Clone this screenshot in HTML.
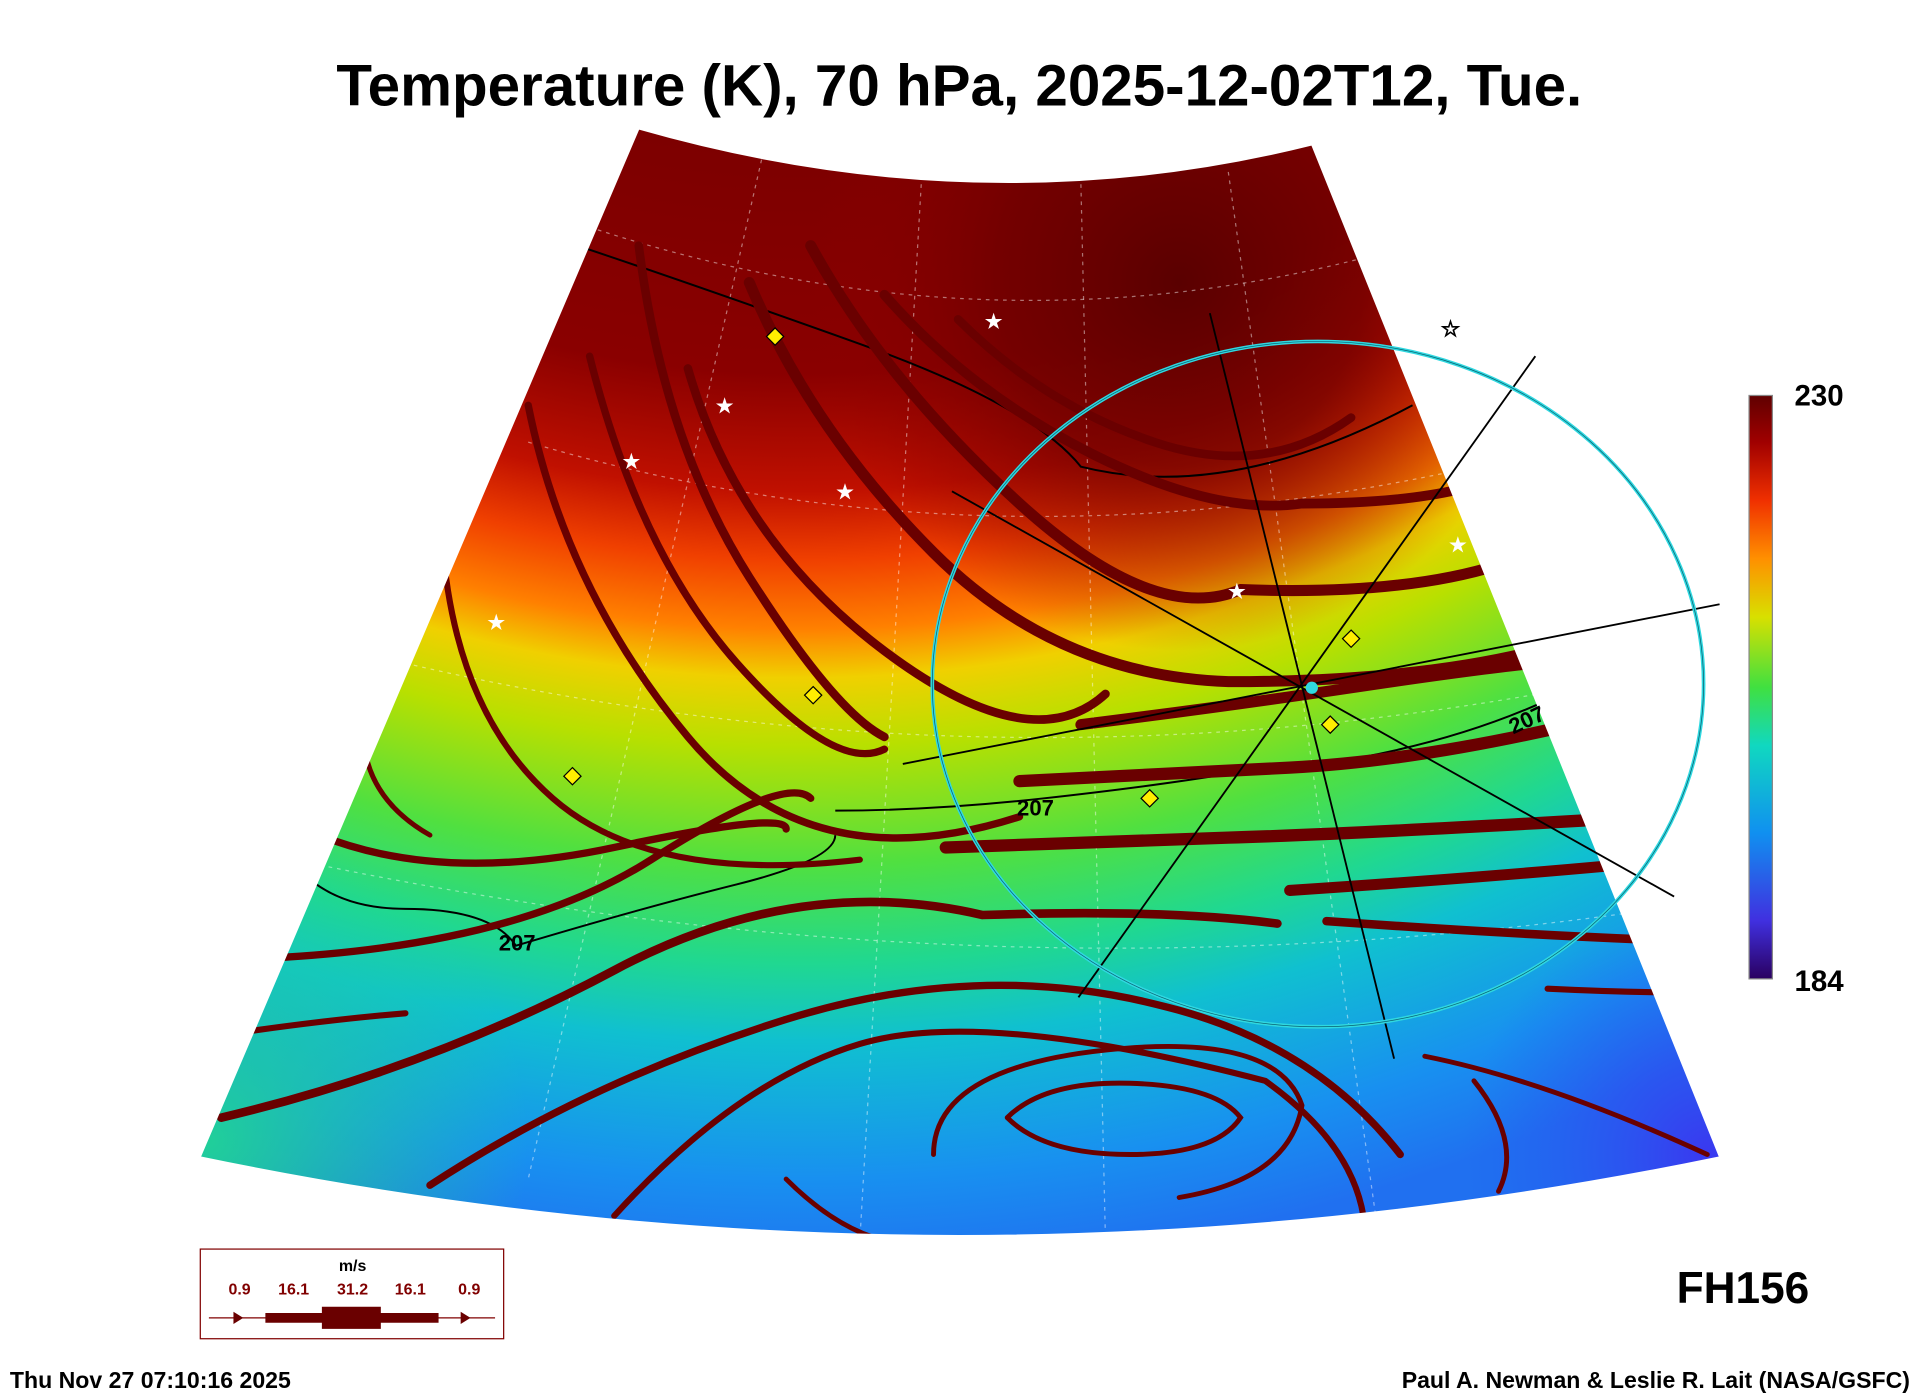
<!DOCTYPE html>
<html><head><meta charset="utf-8"><style>
html,body{margin:0;padding:0;background:#fff;}
svg{display:block;}
text{font-family:"Liberation Sans",Arial,sans-serif;font-weight:bold;}
</style></head><body>
<svg width="1926" height="1394" viewBox="0 0 1568 1135" xmlns="http://www.w3.org/2000/svg">
<defs>
<radialGradient id="tg" cx="650" cy="-560" r="1600" fx="650" fy="-560" gradientUnits="userSpaceOnUse">
<stop offset="0.40" stop-color="#7a0000"/>
<stop offset="0.54" stop-color="#8a0000"/>
<stop offset="0.60" stop-color="#c01000"/>
<stop offset="0.635" stop-color="#f04000"/>
<stop offset="0.67" stop-color="#ff8000"/>
<stop offset="0.695" stop-color="#f0d000"/>
<stop offset="0.73" stop-color="#b8e000"/>
<stop offset="0.79" stop-color="#50e040"/>
<stop offset="0.84" stop-color="#20d890"/>
<stop offset="0.88" stop-color="#10c0d0"/>
<stop offset="0.95" stop-color="#1890f0"/>
<stop offset="1" stop-color="#2070f0"/>
</radialGradient>
<radialGradient id="dr" cx="960" cy="230" r="300" gradientUnits="userSpaceOnUse">
<stop offset="0" stop-color="#5a0000" stop-opacity="1"/>
<stop offset="0.5" stop-color="#700000" stop-opacity="0.8"/>
<stop offset="1" stop-color="#900000" stop-opacity="0"/>
</radialGradient>
<radialGradient id="gl" cx="170" cy="930" r="260" gradientUnits="userSpaceOnUse">
<stop offset="0" stop-color="#20d890" stop-opacity="0.9"/>
<stop offset="1" stop-color="#20d890" stop-opacity="0"/>
</radialGradient>
<radialGradient id="bp" cx="1390" cy="940" r="200" gradientUnits="userSpaceOnUse">
<stop offset="0" stop-color="#3a38f0" stop-opacity="1"/>
<stop offset="1" stop-color="#2060f0" stop-opacity="0"/>
</radialGradient>
<linearGradient id="cb" x1="0" y1="1" x2="0" y2="0">
<stop offset="0" stop-color="#2a0060"/>
<stop offset="0.1" stop-color="#4030e0"/>
<stop offset="0.25" stop-color="#1090f0"/>
<stop offset="0.4" stop-color="#10d8c0"/>
<stop offset="0.5" stop-color="#40e040"/>
<stop offset="0.62" stop-color="#d8e000"/>
<stop offset="0.72" stop-color="#ff9000"/>
<stop offset="0.82" stop-color="#f03000"/>
<stop offset="0.92" stop-color="#a00000"/>
<stop offset="1" stop-color="#600000"/>
</linearGradient>
<clipPath id="mc"><path d="M520,105 Q800,185 1068,118 L1400,942 Q780,1070 163,942 Z"/></clipPath>
</defs>
<text x="781" y="86" font-size="47.5" text-anchor="middle">Temperature (K), 70 hPa, 2025-12-02T12, Tue.</text>
<g clip-path="url(#mc)">
<rect x="150" y="90" width="1270" height="960" fill="url(#tg)"/>
<rect x="150" y="90" width="1270" height="960" fill="url(#dr)"/>
<rect x="150" y="90" width="1270" height="960" fill="url(#gl)"/>
<rect x="150" y="90" width="1270" height="960" fill="url(#bp)"/>
<g fill="none" stroke="#fff" stroke-opacity="0.45" stroke-width="1" stroke-dasharray="3,4">
<path d="M480,185 Q800,290 1110,210"/><path d="M430,360 Q800,470 1200,380"/><path d="M330,540 Q800,650 1280,560"/><path d="M240,700 Q800,820 1350,740"/>
<path d="M620,130 L430,960"/><path d="M750,150 L700,1010"/><path d="M880,150 L900,1010"/><path d="M1000,140 L1120,990"/>
</g>
<g fill="none" stroke="#000" stroke-width="1.6">
<path d="M470,200 Q560,230 700,280 T880,380 Q1000,410 1150,330"/>
<path d="M680,660 Q760,660 850,650 T1000,630 Q1150,620 1260,570"/>
<path d="M230,690 Q260,740 330,740 T420,770 Q520,740 600,720 T680,680"/>
</g>
<g fill="none" stroke="#6a0000" stroke-linecap="round">
<path stroke-width="9" d="M610,230 Q660,350 760,450 T1000,555 Q1150,555 1250,530"/>
<path stroke-width="9" d="M660,200 Q720,310 830,410 T1010,480 Q1140,485 1220,460"/>
<path stroke-width="8" d="M720,240 Q790,320 890,370 T1060,410 Q1140,410 1190,398"/>
<path stroke-width="7" d="M780,260 Q850,330 940,360 T1100,340"/>
<path stroke-width="7" d="M560,300 Q600,440 720,530 T900,565"/>
<path stroke-width="7" d="M520,200 Q540,360 610,470 T720,600"/>
<path stroke-width="6" d="M480,290 Q520,450 600,540 T720,610"/>
<path stroke-width="6" d="M430,330 Q460,480 560,600 T830,665"/>
<path stroke-width="5" d="M360,440 Q370,580 450,650 T700,700"/>
<path stroke-width="4" d="M300,560 Q280,640 350,680"/>
<path stroke-width="6" d="M260,680 Q360,720 500,690 T640,675"/>
<path stroke-width="6" d="M220,780 Q420,770 530,700 T660,650"/>
<path stroke-width="7" d="M180,910 Q350,870 500,790 T800,745 Q950,740 1040,752"/>
<path stroke-width="5" d="M200,840 Q270,830 330,825"/>
<path stroke-width="10" d="M770,690 Q900,685 1000,682 T1290,668"/>
<path stroke-width="10" d="M830,636 Q950,630 1050,625 T1280,590"/>
<path stroke-width="9" d="M880,590 Q1000,575 1100,560 T1250,540"/>
<path stroke-width="9" d="M1050,725 Q1200,715 1310,705"/>
<path stroke-width="7" d="M1080,750 Q1220,760 1340,765"/>
<path stroke-width="5" d="M1260,805 Q1320,808 1370,808"/>
<path stroke-width="6" d="M350,965 Q480,880 640,830 T950,820 Q1070,850 1140,940"/>
<path stroke-width="5" d="M500,990 Q600,880 700,850 T1030,880 Q1100,930 1110,990"/>
<path stroke-width="4" d="M820,910 Q850,880 920,882 T1010,910 Q990,940 920,940 T820,910"/>
<path stroke-width="4" d="M760,940 Q760,870 900,855 T1060,900 Q1050,960 960,975"/>
<path stroke-width="4" d="M1160,860 Q1260,880 1390,940"/>
<path stroke-width="4" d="M1200,880 Q1240,930 1220,970"/>
<path stroke-width="4" d="M640,960 Q680,1000 720,1010"/>
</g>
</g>
<path d="M520,105 Q800,185 1068,118 L1400,942 Q780,1070 163,942 Z" fill="none" stroke="#fff" stroke-width="1"/>
<g stroke="#000" stroke-width="1.5">
<line x1="775" y1="400" x2="1363" y2="730"/>
<line x1="985" y1="255" x2="1135" y2="862"/>
<line x1="735" y1="622" x2="1400" y2="492"/>
<line x1="878" y1="812" x2="1250" y2="290"/>
</g>
<ellipse cx="1073" cy="557" rx="314" ry="279" fill="none" stroke="#30d8e0" stroke-width="3"/>
<ellipse cx="1073" cy="557" rx="314" ry="279" fill="none" stroke="#0a6070" stroke-width="0.6"/>
<circle cx="1068" cy="560" r="5" fill="#30d8e0"/>
<g fill="#ffee00" stroke="#000" stroke-width="1">
<path d="M631,267 l7,7 l-7,7 l-7,-7z"/><path d="M662,559 l7,7 l-7,7 l-7,-7z"/><path d="M466,625 l7,7 l-7,7 l-7,-7z"/>
<path d="M936,643 l7,7 l-7,7 l-7,-7z"/><path d="M1083,583 l7,7 l-7,7 l-7,-7z"/><path d="M1100,513 l7,7 l-7,7 l-7,-7z"/>
</g>
<g font-size="16" fill="#fff" font-family="DejaVu Sans" text-anchor="middle">
<text x="809" y="267">★</text><text x="590" y="336">★</text><text x="514" y="381">★</text><text x="688" y="406">★</text>
<text x="404" y="512">★</text><text x="1007" y="487">★</text><text x="1187" y="449">★</text><text x="1181" y="273" fill="#fff" stroke="#000" stroke-width="0.7">★</text>
</g>
<g font-size="18" fill="#000"><text x="828" y="664">207</text><text x="406" y="774">207</text><text x="1232" y="598" transform="rotate(-25 1232 598)">207</text></g>
<rect x="1424" y="322" width="19" height="475" fill="url(#cb)" stroke="#888" stroke-width="1"/>
<text x="1461" y="330" font-size="24">230</text>
<text x="1461" y="807" font-size="24">184</text>
<text x="1365" y="1061" font-size="36">FH156</text>
<rect x="163" y="1017" width="247" height="73" fill="none" stroke="#800000" stroke-width="1"/>
<g font-size="13" fill="#800000" text-anchor="middle">
<text x="287" y="1035" fill="#000">m/s</text>
<text x="195" y="1054">0.9</text><text x="239" y="1054">16.1</text><text x="287" y="1054">31.2</text><text x="334" y="1054">16.1</text><text x="382" y="1054">0.9</text>
</g>
<line x1="170" y1="1073" x2="403" y2="1073" stroke="#800000" stroke-width="1"/>
<path d="M216,1069 H262 V1064 H310 V1069 H357 V1077 H310 V1082 H262 V1077 H216Z" fill="#6a0000"/>
<path d="M190,1068 l8,5 l-8,5z M375,1068 l8,5 l-8,5z" fill="#6a0000"/>
<text x="8" y="1130" font-size="18.8">Thu Nov 27 07:10:16 2025</text>
<text x="1555" y="1130" font-size="18.8" text-anchor="end">Paul A. Newman &amp; Leslie R. Lait (NASA/GSFC)</text>
</svg>
</body></html>
